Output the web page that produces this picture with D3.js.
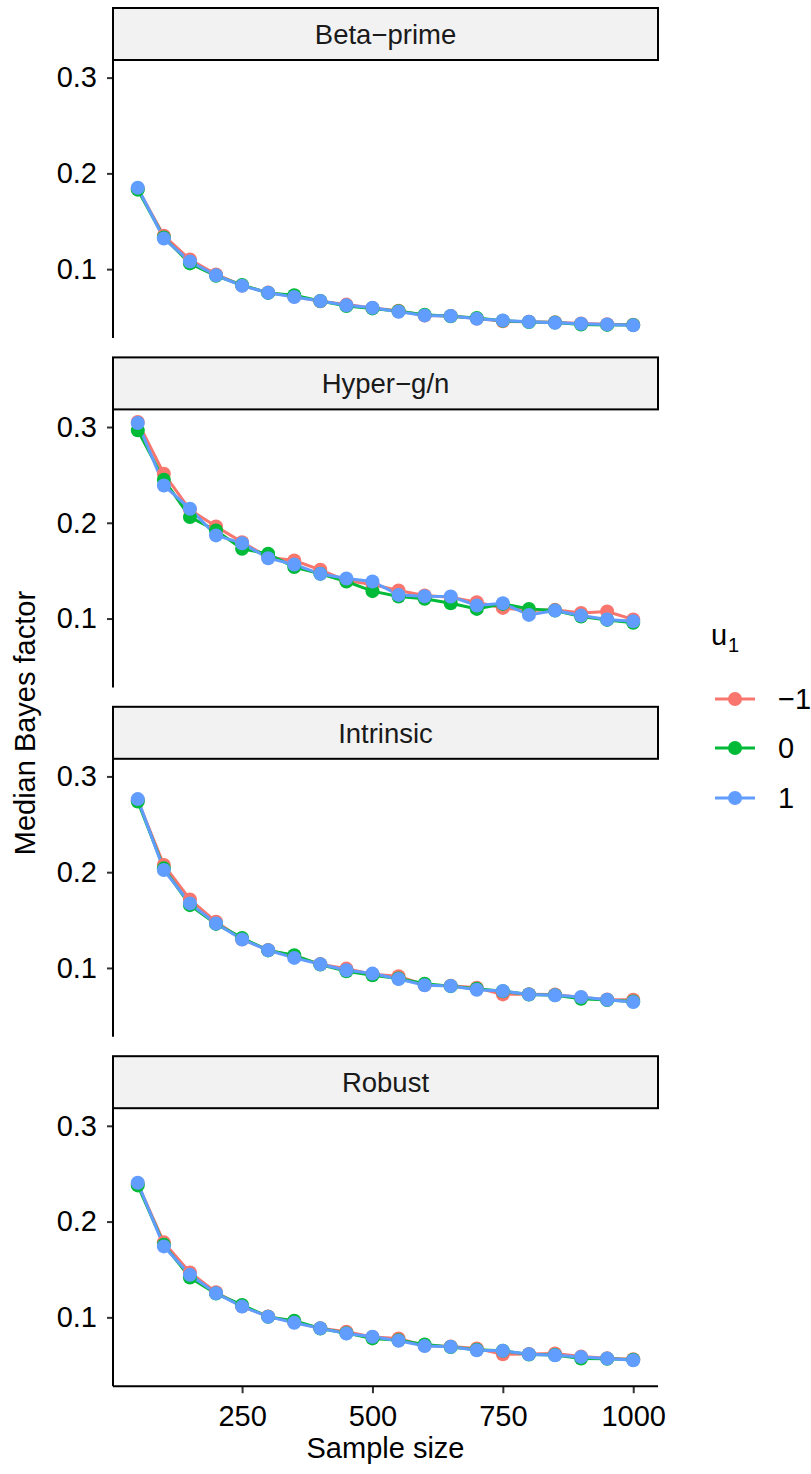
<!DOCTYPE html>
<html>
<head>
<meta charset="utf-8">
<script src="https://cdn.jsdelivr.net/npm/d3@7"></script>
<style>
  body { margin: 0; background: #fff; }
  text { font-family: "Liberation Sans", Arial, Helvetica, sans-serif; }
</style>
</head>
<body>
<div id="chart"></div>
<script>
// sample sizes on the x axis
var sampleSize = [50, 100, 150, 200, 250, 300, 350, 400, 450, 500,
                  550, 600, 650, 700, 750, 800, 850, 900, 950, 1000];

var facetNames = ["Beta\u2212prime", "Hyper\u2212g/n", "Intrinsic", "Robust"];
var seriesLabels = ["\u22121", "0", "1"];
var seriesColors = ["#F8766D", "#00BA38", "#619CFF"];
var xTicks = [250, 500, 750, 1000];
var yTicks = [0.1, 0.2, 0.3];

// median Bayes factor, one array per prior and u1 value
var betaPrimeNeg1 = [0.184, 0.135, 0.110, 0.0945, 0.0830, 0.0755, 0.0715, 0.0665, 0.0630, 0.0595,
                     0.0565, 0.0515, 0.0512, 0.0485, 0.0455, 0.0452, 0.0445, 0.0432, 0.0425, 0.0420];
var betaPrime0    = [0.183, 0.133, 0.106, 0.0930, 0.0835, 0.0752, 0.0728, 0.0668, 0.0615, 0.0590,
                     0.0560, 0.0525, 0.0508, 0.0490, 0.0462, 0.0448, 0.0442, 0.0422, 0.0418, 0.0418];
var betaPrime1    = [0.185, 0.132, 0.108, 0.0935, 0.0827, 0.0754, 0.0709, 0.0667, 0.0622, 0.0597,
                     0.0555, 0.0517, 0.0510, 0.0482, 0.0465, 0.0450, 0.0440, 0.0430, 0.0423, 0.0413];

var hyperNeg1 = [0.3052, 0.2512, 0.2136, 0.1962, 0.1798, 0.1640, 0.1606, 0.1509, 0.1397, 0.1355,
                 0.1293, 0.1240, 0.1223, 0.1171, 0.1111, 0.1084, 0.1091, 0.1059, 0.1073, 0.0990];
var hyper0    = [0.2965, 0.2450, 0.2060, 0.1920, 0.1728, 0.1676, 0.1537, 0.1467, 0.1387, 0.1286,
                 0.1230, 0.1206, 0.1160, 0.1101, 0.1153, 0.1101, 0.1084, 0.1021, 0.0986, 0.0955];
var hyper1    = [0.3042, 0.2390, 0.2146, 0.1868, 0.1787, 0.1630, 0.1564, 0.1467, 0.1418, 0.1387,
                 0.1247, 0.1233, 0.1230, 0.1136, 0.1160, 0.1038, 0.1084, 0.1031, 0.0990, 0.0972];

var intrinsicNeg1 = [0.2750, 0.2075, 0.1716, 0.1482, 0.1300, 0.1188, 0.1122, 0.1040, 0.0993, 0.0934,
                     0.0913, 0.0822, 0.0815, 0.0794, 0.0724, 0.0726, 0.0724, 0.0692, 0.0670, 0.0668];
var intrinsic0    = [0.2738, 0.2040, 0.1656, 0.1460, 0.1314, 0.1183, 0.1133, 0.1035, 0.0965, 0.0923,
                     0.0890, 0.0836, 0.0810, 0.0783, 0.0757, 0.0722, 0.0716, 0.0679, 0.0665, 0.0650];
var intrinsic1    = [0.2763, 0.2023, 0.1674, 0.1464, 0.1297, 0.1185, 0.1105, 0.1038, 0.0976, 0.0941,
                     0.0885, 0.0819, 0.0812, 0.0773, 0.0759, 0.0724, 0.0714, 0.0696, 0.0668, 0.0644];

var robustNeg1 = [0.2395, 0.1783, 0.1469, 0.1262, 0.1115, 0.1010, 0.0950, 0.0887, 0.0850, 0.0795,
                  0.0780, 0.0705, 0.0695, 0.0675, 0.0615, 0.0618, 0.0622, 0.0590, 0.0572, 0.0563];
var robust0    = [0.2378, 0.1759, 0.1416, 0.1248, 0.1129, 0.1005, 0.0965, 0.0883, 0.0835, 0.0780,
                  0.0760, 0.0717, 0.0690, 0.0662, 0.0652, 0.0612, 0.0607, 0.0570, 0.0568, 0.0558];
var robust1    = [0.2406, 0.1741, 0.1444, 0.1252, 0.1112, 0.1007, 0.0944, 0.0885, 0.0832, 0.0797,
                  0.0755, 0.0700, 0.0692, 0.0657, 0.0650, 0.0615, 0.0605, 0.0587, 0.0570, 0.0552];

var facetSeries = [
  [betaPrimeNeg1, betaPrime0, betaPrime1],
  [hyperNeg1, hyper0, hyper1],
  [intrinsicNeg1, intrinsic0, intrinsic1],
  [robustNeg1, robust0, robust1]
];

//layout
var width = 811, height = 1474;
var plotLeft = 113, plotRight = 658;
var firstStripTop = 8, stripH = 52, panelH = 278, panelStep = 349.4;
var tickFont = 29, titleFont = 29, stripFont = 27.5;
var pointR = 7;

var svg = d3.select("#chart").append("svg")
  .attr("width", width).attr("height", height);

svg.append("rect").attr("width", width).attr("height", height).attr("fill", "#fff");

//scales (ggplot style 5% expansion)
var xExt = d3.extent(sampleSize);
var xPad = (xExt[1] - xExt[0]) * 0.05;
var x = d3.scaleLinear().domain([xExt[0] - xPad, xExt[1] + xPad]).range([plotLeft, plotRight]);

var allVals = d3.merge(facetSeries.map(function(s) { return d3.merge(s); }));
var yExt = d3.extent(allVals);
var yPad = (yExt[1] - yExt[0]) * 0.05;
var y = d3.scaleLinear().domain([yExt[0] - yPad, yExt[1] + yPad]).range([panelH, 0]);

var line = d3.line()
  .x(function(d, i) { return x(sampleSize[i]); })
  .y(function(d) { return y(d); });

facetNames.forEach(function(name, k) {
  var stripTop = firstStripTop + k * panelStep;
  var panelTop = stripTop + stripH;

  //strip
  svg.append("rect")
    .attr("x", plotLeft).attr("y", stripTop)
    .attr("width", plotRight - plotLeft).attr("height", stripH)
    .attr("fill", "#f2f2f2").attr("stroke", "#000").attr("stroke-width", 2);
  svg.append("text")
    .attr("x", (plotLeft + plotRight) / 2).attr("y", stripTop + stripH / 2 + 10)
    .attr("text-anchor", "middle").attr("font-size", stripFont).attr("fill", "#1a1a1a")
    .text(name);

  var g = svg.append("g").attr("transform", "translate(0," + panelTop + ")");

  //y axis
  var yAxis = g.append("g").attr("transform", "translate(" + plotLeft + ",0)")
    .call(d3.axisLeft(y).tickValues(yTicks).tickFormat(d3.format(".1f"))
      .tickSize(6).tickPadding(10).tickSizeOuter(0));
  yAxis.select(".domain").remove();
  yAxis.selectAll(".tick line").attr("stroke", "#333").attr("stroke-width", 2);
  yAxis.selectAll(".tick text").attr("font-size", tickFont).attr("fill", "#000")
    .attr("font-family", "Liberation Sans, Arial, sans-serif");
  g.append("line")
    .attr("x1", plotLeft).attr("x2", plotLeft).attr("y1", 0).attr("y2", panelH)
    .attr("stroke", "#000").attr("stroke-width", 2);

  //x axis only on the bottom panel
  if (k === facetNames.length - 1) {
    var xAxis = g.append("g").attr("transform", "translate(0," + panelH + ")")
      .call(d3.axisBottom(x).tickValues(xTicks).tickFormat(d3.format("d"))
        .tickSize(7).tickPadding(12).tickSizeOuter(0));
    xAxis.select(".domain").remove();
    xAxis.selectAll(".tick line").attr("stroke", "#333").attr("stroke-width", 2);
    xAxis.selectAll(".tick text").attr("font-size", tickFont).attr("fill", "#000")
      .attr("font-family", "Liberation Sans, Arial, sans-serif");
    g.append("line")
      .attr("x1", plotLeft).attr("x2", plotRight).attr("y1", panelH).attr("y2", panelH)
      .attr("stroke", "#000").attr("stroke-width", 2);
  }

  //lines first, then points
  facetSeries[k].forEach(function(vals, s) {
    g.append("path").datum(vals)
      .attr("d", line).attr("fill", "none")
      .attr("stroke", seriesColors[s]).attr("stroke-width", 3);
  });
  facetSeries[k].forEach(function(vals, s) {
    g.selectAll(null).data(vals).enter().append("circle")
      .attr("cx", function(d, i) { return x(sampleSize[i]); })
      .attr("cy", function(d) { return y(d); })
      .attr("r", pointR).attr("fill", seriesColors[s]);
  });
});

//axis titles
svg.append("text")
  .attr("x", (plotLeft + plotRight) / 2).attr("y", 1458)
  .attr("text-anchor", "middle").attr("font-size", titleFont).text("Sample size");

var panelsMid = (firstStripTop + stripH + firstStripTop + 3 * panelStep + stripH + panelH) / 2;
svg.append("text")
  .attr("transform", "translate(35," + panelsMid + ") rotate(-90)")
  .attr("text-anchor", "middle").attr("font-size", titleFont).text("Median Bayes factor");

//legend
var legend = svg.append("g");
legend.append("text").attr("x", 711).attr("y", 645).attr("font-size", 29).text("u");
legend.append("text").attr("x", 728).attr("y", 652).attr("font-size", 20).text("1");

var keyY = [699, 748, 798];
seriesLabels.forEach(function(lab, s) {
  legend.append("line")
    .attr("x1", 715).attr("x2", 755).attr("y1", keyY[s]).attr("y2", keyY[s])
    .attr("stroke", seriesColors[s]).attr("stroke-width", 3);
  legend.append("circle")
    .attr("cx", 735).attr("cy", keyY[s]).attr("r", pointR).attr("fill", seriesColors[s]);
  legend.append("text")
    .attr("x", 778).attr("y", keyY[s]).attr("dy", "0.36em")
    .attr("font-size", 29).text(lab);
});
</script>
</body>
</html>
